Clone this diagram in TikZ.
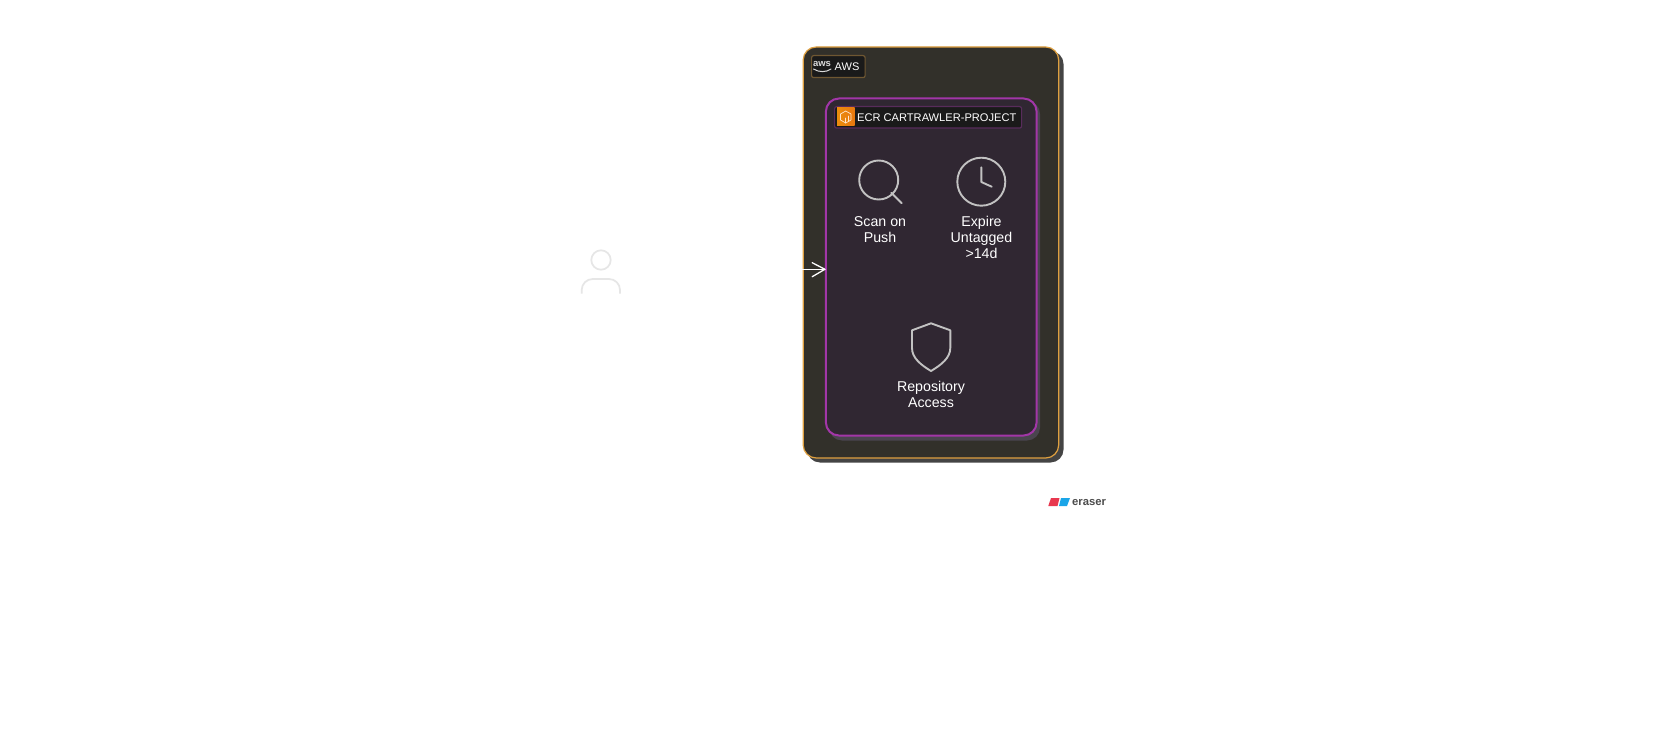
\documentclass[tikz,border=0pt]{standalone}
\usepackage{fontspec}
\setmainfont{Liberation Sans}
\definecolor{awsfill}{HTML}{32302A}
\definecolor{awsshadow}{HTML}{444444}
\definecolor{awsline}{HTML}{DFA040}
\definecolor{ecrfill}{HTML}{302732}
\definecolor{ecrshadow}{HTML}{4A454F}
\definecolor{ecrline}{HTML}{A236A8}
\definecolor{labfill}{HTML}{1A1A1A}
\definecolor{iconline}{HTML}{C2C2C2}
\definecolor{personline}{HTML}{E6E6E6}
\definecolor{iconorange}{HTML}{E8780F}
\definecolor{markred}{HTML}{E8384F}
\definecolor{markblue}{HTML}{1AA5E8}
\tikzset{
  groupbox/.style={rounded corners=13pt,anchor=north west,inner sep=0pt},
  tagbox/.style={rounded corners=2pt,anchor=north west,inner sep=0pt,fill=labfill,line width=1.2pt},
  caption/.style={text=white,font=\fontsize{14.2}{15.9}\selectfont,align=center,inner sep=0pt,anchor=north},
  tagtext/.style={text=white,inner sep=0pt,anchor=west},
  icon/.style={draw=iconline,line width=1.9pt},
}
\begin{document}
\begin{tikzpicture}[x=1pt,y=-1pt,line cap=round,line join=round]
\useasboundingbox[fill=white] (0,0) rectangle (1663,749);
% person
\node[minimum width=40pt,minimum height=38pt,inner sep=0pt] (person) at (601,269.3) {};
\draw[personline,line width=1.7pt] (601,260) circle (9.7);
\draw[personline,line width=1.7pt,line cap=butt] (581.7,293.5) -- (581.7,290) arc[start angle=180,end angle=270,radius=11] -- (609,279) arc[start angle=270,end angle=360,radius=11] -- (620,293.5);
% AWS group
\fill[awsshadow,rounded corners=13pt] (807,51) rectangle (1063.5,462.5);
\node[groupbox,draw=awsline,fill=awsfill,line width=1.2pt,minimum width=255.5pt,minimum height=411pt] (aws) at (802.6,46.4) {};
\node[tagbox,draw=awsline!35!awsfill,minimum width=53.5pt,minimum height=22pt] (awstag) at (811,55) {};
\node[text=white!85!black,inner sep=0pt,font=\bfseries\fontsize{9.5}{9.5}\selectfont] (awslogo) at (822,63.5) {aws};
\draw[white!85!black,line width=1pt] (813.5,69) .. controls (819,72.5) and (826,72.5) .. (831,69);
\node[tagtext,font=\fontsize{11}{12}\selectfont] (awstext) at (834.5,66.5) {AWS};
% ECR group
\fill[ecrshadow,rounded corners=13pt] (829,101) rectangle (1040,440.5);
\node[groupbox,draw=ecrline,fill=ecrfill,line width=2pt,minimum width=210.7pt,minimum height=337pt] (ecr) at (824.9,97.5) {};
\node[tagbox,draw=ecrline!35!ecrfill,minimum width=187pt,minimum height=21.5pt] (ecrtag) at (834,106) {};
\shade[left color=iconorange!85!yellow,right color=iconorange] (837,108) rectangle (854.5,125.5);
\draw[white!80!orange,line width=0.7pt] (845.7,111) -- (851,114) -- (851,120) -- (845.7,123) -- (840.5,120) -- (840.5,114) -- cycle;
\draw[white!80!orange,line width=0.7pt] (848,116) -- (848,121) (845.7,118) -- (845.7,123);
\node[tagtext,font=\fontsize{11.1}{12}\selectfont] (ecrtext) at (857,118) {ECR CARTRAWLER-PROJECT};
% Scan on Push
\draw[icon] (878.7,180) circle (19.5);
\draw[icon] (891.2,192.7) -- (901.7,203.3);
\node[caption] (scan) at (880,216) {Scan on\\Push};
% Expire
\draw[icon] (981.3,181.7) circle (24);
\draw[icon] (981.3,167.3) -- (981.3,182) -- (991.7,186.7);
\node[caption] (expire) at (981.5,216) {Expire\\Untagged\\>14d};
% Repository
\draw[icon] (931,323.3) -- (950.3,330.3) -- (950.3,348) .. controls (950.3,358) and (941,365) .. (931,371) .. controls (921,365) and (912,358) .. (912,348) -- (912,330.3) -- cycle;
\node[caption] (repo) at (931,381.5) {Repository\\Access};
% connector (white, only visible on the dark box)
\draw[white,line width=1.3pt] (person.east) -- (person.east -| ecr.west);
\coordinate (tip) at (person.east -| ecr.west);
\draw[white,line width=1.3pt] ([shift={(-12.7,-6.6)}]tip) -- (tip) -- ([shift={(-12.7,7.4)}]tip);
% eraser mark
\fill[markred] (1051,498) -- (1059.5,498) -- (1057.5,506) -- (1048.3,506) -- cycle;
\fill[markblue] (1061,498) -- (1070,498) -- (1067,506) -- (1059,506) -- cycle;
\node[inner sep=0pt,anchor=west,text=black!70,font=\bfseries\fontsize{11.3}{12}\selectfont] (eraser) at (1072,503) {eraser};
\end{tikzpicture}
\end{document}
